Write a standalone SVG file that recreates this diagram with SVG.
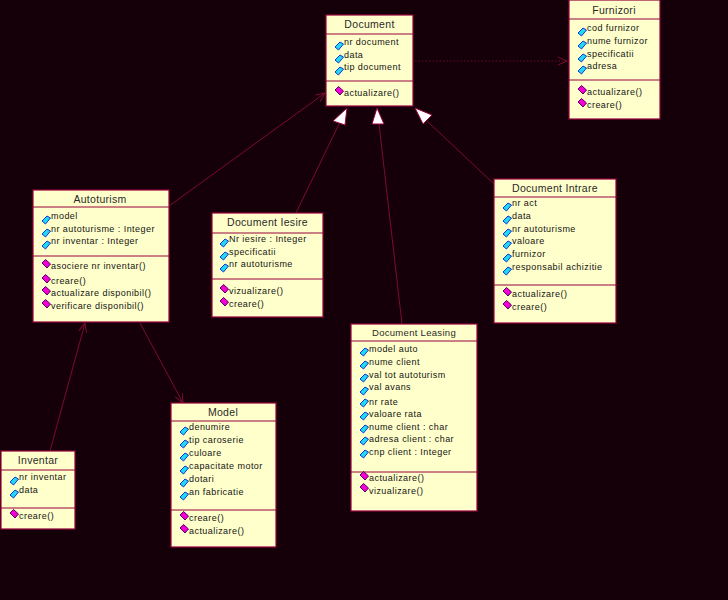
<svg xmlns="http://www.w3.org/2000/svg" width="728" height="600" viewBox="0 0 728 600">
<style>
.b{fill:#ffffcb;stroke:#96003c;stroke-width:1.2}
.s{stroke:#96003c;stroke-width:1;fill:none}
.c{stroke:#7d0a32;stroke-width:1;fill:none}
text{font-family:"Liberation Sans",Arial,sans-serif;font-size:9px;fill:#141414;letter-spacing:.45px}
.t{font-size:10.5px;text-anchor:middle;letter-spacing:.3px;fill:#2a2a2a}
.h{fill:#fff;stroke:#96003c;stroke-width:1}
</style>
<defs>
<g id="a"><path d="M-4 1 L1 -4 L4.500 -2 L-0.500 4 Z" fill="#22d8f4" stroke="#1038d0" stroke-width="1"/></g>
<g id="o"><path d="M-4 -1 L-0.500 -4.500 L4.500 0 L1 4 Z" fill="#f400d4" stroke="#500060" stroke-width="1"/></g>
<marker id="open" markerWidth="12" markerHeight="12" refX="10" refY="6" orient="auto" markerUnits="userSpaceOnUse"><path d="M1 2 L10 6 L1 10" fill="none" stroke="#7d0a32"/></marker>
</defs>
<rect width="728" height="600" fill="#15000a"/>
<g id="connectors">
<path class="c" d="M169 206 L325 93" marker-end="url(#open)"/>
<path class="c" d="M296 213 L339 124"/>
<path class="c" d="M402 324 L379 124"/>
<path class="c" d="M494 184 L427 121"/>
<path class="c" d="M415 61 L567 61" stroke-dasharray="1.500 2" stroke-opacity=".8" marker-end="url(#open)"/>
<path class="c" d="M50 451 L85 323" marker-end="url(#open)"/>
<path class="c" d="M140 323 L183 403" marker-end="url(#open)"/>
<path class="h" d="M347 108 L333 121 L345 125 Z"/>
<path class="h" d="M377 108 L372 124 L384 124 Z"/>
<path class="h" d="M415 108 L432 115 L423 124 Z"/>
</g>
<g id="document"><rect class="b" x="326" y="15" width="87" height="91"/><path class="s" d="M326 34H413M326 81H413"/>
<text class="t" x="369.500" y="28">Document</text>
<use href="#a" x="339" y="46"/><text x="344" y="45">nr document</text>
<use href="#a" x="339" y="59"/><text x="344" y="58">data</text>
<use href="#a" x="339" y="71"/><text x="344" y="70">tip document</text>
<use href="#o" x="339" y="91"/><text x="344" y="96">actualizare()</text></g>
<g id="furnizori"><rect class="b" x="569" y="0" width="91" height="119"/><path class="s" d="M569 19H660M569 80H660"/>
<text class="t" x="614" y="14">Furnizori</text>
<use href="#a" x="582" y="32"/><text x="587" y="31">cod furnizor</text>
<use href="#a" x="582" y="45"/><text x="587" y="44">nume furnizor</text>
<use href="#a" x="582" y="58"/><text x="587" y="57">specificatii</text>
<use href="#a" x="582" y="70"/><text x="587" y="69">adresa</text>
<use href="#o" x="582" y="90"/><text x="587" y="95">actualizare()</text>
<use href="#o" x="582" y="103"/><text x="587" y="108">creare()</text></g>
<g id="autoturism"><rect class="b" x="33" y="190" width="136" height="132"/><path class="s" d="M33 207H169M33 256H169"/>
<text class="t" x="100" y="203">Autoturism</text>
<use href="#a" x="46" y="220"/><text x="51" y="219">model</text>
<use href="#a" x="46" y="233"/><text x="51" y="232">nr autoturisme : Integer</text>
<use href="#a" x="46" y="245"/><text x="51" y="244">nr inventar : Integer</text>
<use href="#o" x="46" y="264"/><text x="51" y="269">asociere nr inventar()</text>
<use href="#o" x="46" y="279"/><text x="51" y="284">creare()</text>
<use href="#o" x="46" y="291"/><text x="51" y="296">actualizare disponibil()</text>
<use href="#o" x="46" y="304"/><text x="51" y="309">verificare disponibil()</text></g>
<g id="document-iesire"><rect class="b" x="212" y="213" width="111" height="104"/><path class="s" d="M212 233H323M212 279H323"/>
<text class="t" x="267.500" y="226">Document Iesire</text>
<use href="#a" x="224" y="243"/><text x="229" y="242">Nr iesire : Integer</text>
<use href="#a" x="224" y="256"/><text x="229" y="255">specificatii</text>
<use href="#a" x="224" y="268"/><text x="229" y="267">nr autoturisme</text>
<use href="#o" x="224" y="289"/><text x="229" y="294">vizualizare()</text>
<use href="#o" x="224" y="302"/><text x="229" y="307">creare()</text></g>
<g id="document-intrare"><rect class="b" x="494" y="179" width="122" height="144"/><path class="s" d="M494 197H616M494 285H616"/>
<text class="t" x="555" y="192">Document Intrare</text>
<use href="#a" x="507" y="207"/><text x="512" y="206">nr act</text>
<use href="#a" x="507" y="220"/><text x="512" y="219">data</text>
<use href="#a" x="507" y="233"/><text x="512" y="232">nr autoturisme</text>
<use href="#a" x="507" y="245"/><text x="512" y="244">valoare</text>
<use href="#a" x="507" y="258"/><text x="512" y="257">furnizor</text>
<use href="#a" x="507" y="271"/><text x="512" y="270">responsabil achizitie</text>
<use href="#o" x="507" y="292"/><text x="512" y="297">actualizare()</text>
<use href="#o" x="507" y="305"/><text x="512" y="310">creare()</text></g>
<g id="document-leasing"><rect class="b" x="351" y="324" width="126" height="187"/><path class="s" d="M351 341H477M351 472H477"/>
<text class="t" x="414" y="336" style="font-size:9.500px">Document Leasing</text>
<use href="#a" x="364" y="352"/><text x="369" y="352">model auto</text>
<use href="#a" x="364" y="365"/><text x="369" y="365">nume client</text>
<use href="#a" x="364" y="378"/><text x="369" y="378">val tot autoturism</text>
<use href="#a" x="364" y="391"/><text x="369" y="390">val avans</text>
<use href="#a" x="364" y="403"/><text x="369" y="405">nr rate</text>
<use href="#a" x="364" y="416"/><text x="369" y="417">valoare rata</text>
<use href="#a" x="364" y="429"/><text x="369" y="430">nume client : char</text>
<use href="#a" x="364" y="441"/><text x="369" y="442">adresa client : char</text>
<use href="#a" x="364" y="454"/><text x="369" y="455">cnp client : Integer</text>
<use href="#o" x="364" y="476"/><text x="369" y="481">actualizare()</text>
<use href="#o" x="364" y="488"/><text x="369" y="494">vizualizare()</text></g>
<g id="model"><rect class="b" x="171" y="403" width="105" height="144"/><path class="s" d="M171 421H276M171 510H276"/>
<text class="t" x="223" y="416">Model</text>
<use href="#a" x="184" y="431"/><text x="189" y="430">denumire</text>
<use href="#a" x="184" y="444"/><text x="189" y="443">tip caroserie</text>
<use href="#a" x="184" y="457"/><text x="189" y="456">culoare</text>
<use href="#a" x="184" y="470"/><text x="189" y="469">capacitate motor</text>
<use href="#a" x="184" y="483"/><text x="189" y="482">dotari</text>
<use href="#a" x="184" y="496"/><text x="189" y="495">an fabricatie</text>
<use href="#o" x="184" y="516"/><text x="189" y="521">creare()</text>
<use href="#o" x="184" y="529"/><text x="189" y="534">actualizare()</text></g>
<g id="inventar"><rect class="b" x="1" y="451" width="74" height="78"/><path class="s" d="M1 470H75M1 508H75"/>
<text class="t" x="38" y="464">Inventar</text>
<use href="#a" x="14" y="481"/><text x="19" y="480">nr inventar</text>
<use href="#a" x="14" y="494"/><text x="19" y="493">data</text>
<use href="#o" x="14" y="514"/><text x="19" y="519">creare()</text></g>
</svg>
